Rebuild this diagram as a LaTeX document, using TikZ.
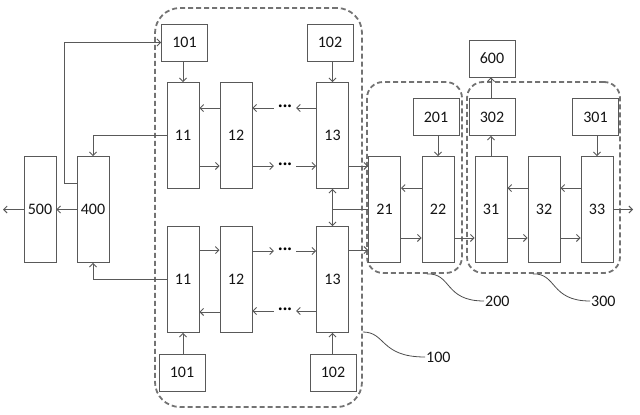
\documentclass[tikz,border=0pt]{standalone}
\usepackage{fontspec}
\setmainfont{Carlito}
\usetikzlibrary{arrows.meta}
\begin{document}
\begin{tikzpicture}[x=1pt,y=-1pt,
  lc/.style={draw=black!65, line width=0.9pt},
  numfont/.style={font=\fontsize{16}{18}\selectfont, text=black!92},
  blk/.style={lc, fill=white, numfont, minimum width=32pt, minimum height=106pt, inner sep=0pt},
  sbox/.style={lc, fill=white, numfont, minimum width=46pt, minimum height=37pt, inner sep=0pt},
  arr/.style={lc, -{Straight Barb[length=3.5pt,width=7pt]}},
  darr/.style={lc, {Straight Barb[length=3.5pt,width=7pt]}-{Straight Barb[length=3.5pt,width=7pt]}},
  region/.style={draw=black!55, line width=1.8pt, dash pattern=on 5pt off 3pt, inner sep=0pt},
  lbl/.style={numfont, inner sep=1pt, anchor=west},
  dts/.style={minimum width=22pt, inner sep=0pt, font=\fontsize{15}{15}\selectfont\bfseries, text=black},
  leader/.style={draw=black!70, line width=0.8pt}
]
\useasboundingbox (0,0) rectangle (640,415);

% regions
\node[region, rounded corners=25pt, minimum width=207pt, minimum height=399pt] (r100) at (258.5,207.5) {};
\node[region, rounded corners=16pt, minimum width=95pt, minimum height=191pt] (r200) at (414.5,177.5) {};
\node[region, rounded corners=16pt, minimum width=153pt, minimum height=191pt] (r300) at (543.5,177.5) {};

% blocks
\node[blk] (n500) at (40,209.5) {500};
\node[blk] (n400) at (93,209.5) {400};
\node[blk] (n11a) at (183,135.5) {11};
\node[blk] (n12a) at (236,135.5) {12};
\node[blk] (n13a) at (332.5,135.5) {13};
\node[blk] (n11b) at (183,279.5) {11};
\node[blk] (n12b) at (236,279.5) {12};
\node[blk] (n13b) at (332.5,279.5) {13};
\node[blk] (n21) at (384.5,209.5) {21};
\node[blk] (n22) at (438,209.5) {22};
\node[blk] (n31) at (491,209.5) {31};
\node[blk] (n32) at (544,209.5) {32};
\node[blk] (n33) at (597,209.5) {33};

% small boxes
\node[sbox] (n101a) at (184.5,42.5) {101};
\node[sbox] (n102a) at (330,42.5) {102};
\node[sbox] (n101b) at (182,372.5) {101};
\node[sbox] (n102b) at (333,372.5) {102};
\node[sbox] (n201) at (436,117) {201};
\node[sbox] (n302) at (492,117) {302};
\node[sbox] (n301) at (595.5,117) {301};
\node[sbox] (n600) at (492,58.5) {600};

% dots
\node[dts] (dAu) at (285,108) {\char"B7\kern0.6pt\char"B7\kern0.6pt\char"B7};
\node[dts] (dAl) at (285,166) {\char"B7\kern0.6pt\char"B7\kern0.6pt\char"B7};
\node[dts] (dBu) at (285,251) {\char"B7\kern0.6pt\char"B7\kern0.6pt\char"B7};
\node[dts] (dBl) at (285,311) {\char"B7\kern0.6pt\char"B7\kern0.6pt\char"B7};

% free ends
\coordinate (o500) at (3,209.5);
\coordinate (o33) at (633,209.5);
\coordinate (c1) at (64,42.5);

% left side
\draw[arr] (n400.west) -- (n500.east);
\draw[arr] (n500.west) -- (o500);
\draw[arr] ([yshift=26pt]n400.west) -| (c1) -- (n101a.west);
\draw[arr] (n11a.west) -| (n400.north);
\draw[arr] (n11b.west) -| (n400.south);

% group 100 top row
\draw[arr] (n101a.south -| n11a.north) -- (n11a.north);
\draw[arr] (n102a.south -| n13a.north) -- (n13a.north);
\draw[arr] (dAu.west -| n13a.west) -- (dAu.east);
\draw[arr] (dAu.west) -- (dAu.west -| n12a.east);
\draw[arr] ([yshift=-26pt]n12a.north west) -- ([yshift=-26pt]n11a.north east);
\draw[arr] ([yshift=23pt]n11a.south east) -- ([yshift=23pt]n12a.south west);
\draw[arr] (dAl.west -| n12a.east) -- (dAl.west);
\draw[arr] (dAl.east) -- (dAl.east -| n13a.west);

% group 100 bottom row
\draw[arr] (n101b.north -| n11b.south) -- (n11b.south);
\draw[arr] (n102b.north -| n13b.south) -- (n13b.south);
\draw[arr] ([yshift=-24pt]n11b.north east) -- ([yshift=-24pt]n12b.north west);
\draw[arr] (dBu.west -| n12b.east) -- (dBu.west);
\draw[arr] (dBu.east) -- (dBu.east -| n13b.west);
\draw[arr] (dBl.east -| n13b.west) -- (dBl.east);
\draw[arr] (dBl.west) -- (dBl.west -| n12b.east);
\draw[arr] ([yshift=21pt]n12b.south west) -- ([yshift=21pt]n11b.south east);

% 13 <-> 13 and to 21
\draw[darr] (n13a.south) -- (n13b.north);
\draw[lc] (n21.west) -- (n21.west -| n13a.south);
\draw[arr] ([yshift=23pt]n13a.south east) -- ([yshift=23pt]n13a.south east -| n21.west);
\draw[arr] ([yshift=-24pt]n13b.north east) -- ([yshift=-24pt]n13b.north east -| n21.west);

% group 200
\draw[arr] (n201.south -| n22.north) -- (n22.north);
\draw[arr] ([yshift=-32pt]n22.north west) -- ([yshift=-32pt]n21.north east);
\draw[arr] ([yshift=25pt]n21.south east) -- ([yshift=25pt]n22.south west);
\draw[arr] ([yshift=25pt]n22.south east) -- ([yshift=25pt]n31.south west);

% group 300
\draw[arr] (n301.south -| n33.north) -- (n33.north);
\draw[arr] ([yshift=-32pt]n33.north west) -- ([yshift=-32pt]n32.north east);
\draw[arr] ([yshift=-32pt]n32.north west) -- ([yshift=-32pt]n31.north east);
\draw[arr] ([yshift=25pt]n31.south east) -- ([yshift=25pt]n32.south west);
\draw[arr] ([yshift=25pt]n32.south east) -- ([yshift=25pt]n33.south west);
\draw[arr] (n31.north) -- (n31.north |- n302.south);
\draw[arr] (n302.north -| n31.north) -- (n600.south -| n31.north);
\draw[arr] (n33.east) -- (o33);

% labels
\node[lbl] (l100) at (425,357) {100};
\node[lbl] (l200) at (484,301) {200};
\node[lbl] (l300) at (590,301) {300};
\draw[leader] ([yshift=-124.5pt]r100.east) .. controls (386,332) and (380,357) .. (l100.west);
\draw[leader] ([xshift=12.5pt]r200.south) .. controls (452,273) and (444,301) .. (l200.west);
\draw[leader] ([xshift=-10.5pt]r300.south) .. controls (557,273) and (550,301) .. (l300.west);
\end{tikzpicture}
\end{document}
